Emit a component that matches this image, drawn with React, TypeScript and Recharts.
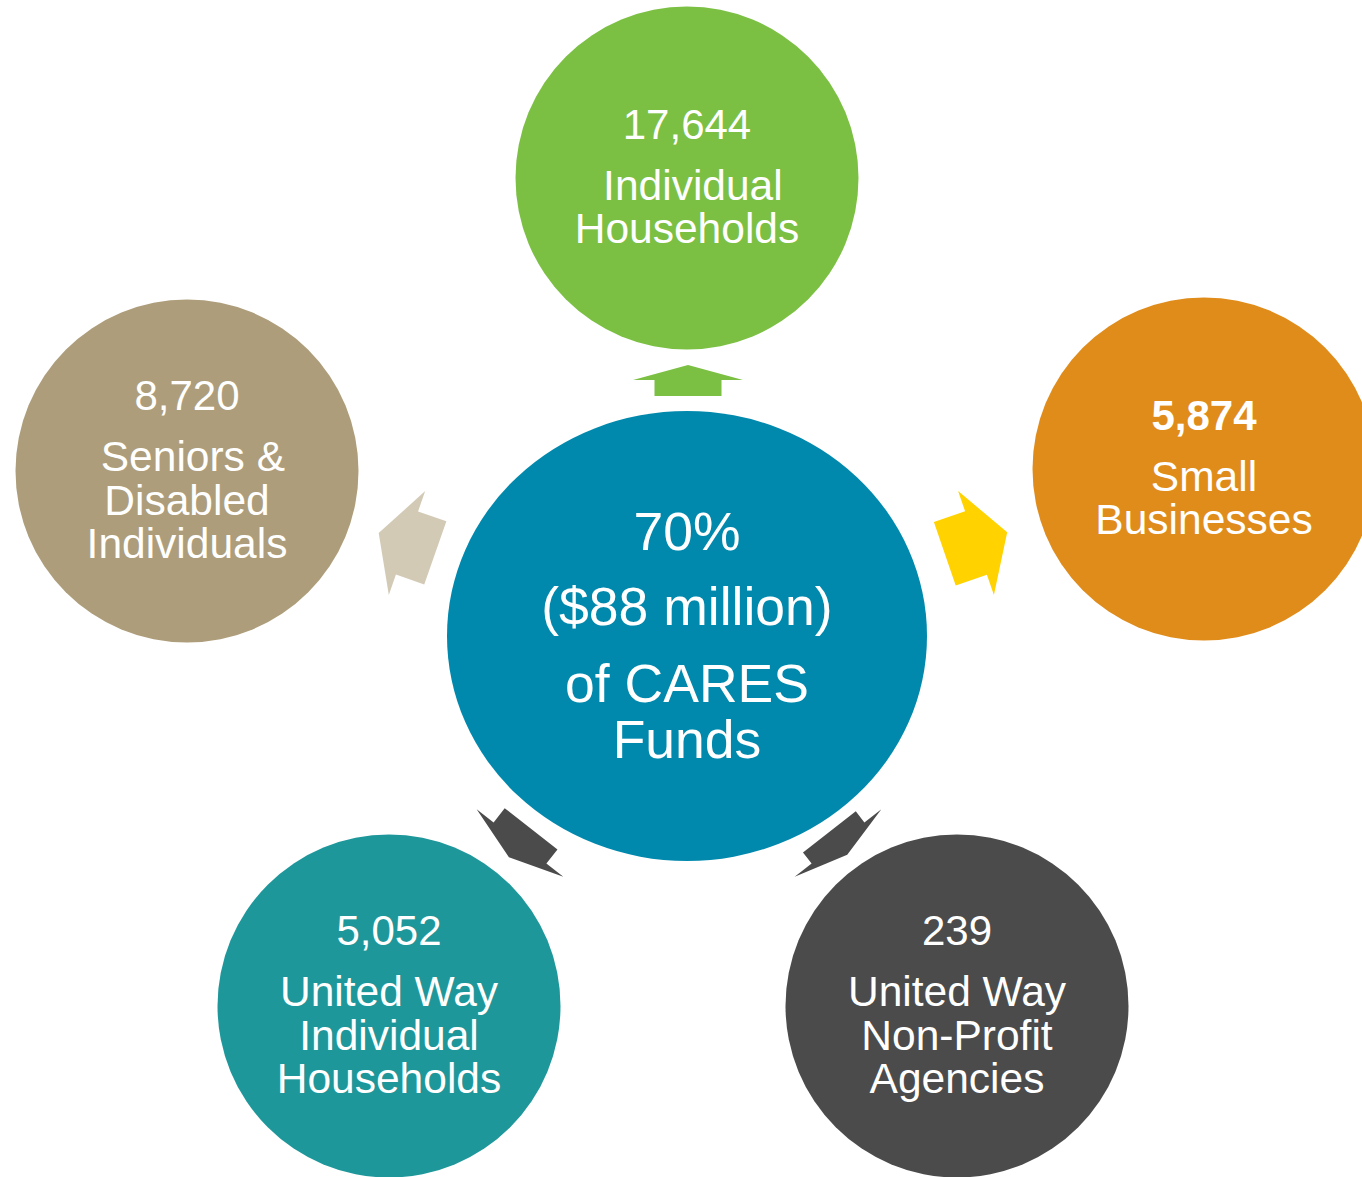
import React from 'react';
import { ScatterChart, Scatter, XAxis, YAxis } from 'recharts';

const WIDTH = 1362;
const HEIGHT = 1177;
const FONT = '"Liberation Sans", Arial, Helvetica, sans-serif';

// Hub (center) node
const hubX = [687];
const hubY = [636];
const hubLines = ['70%', '($88 million)', 'of CARES', 'Funds'];

// Outer nodes
const nodeX = [687, 1204, 957, 389, 187];
const nodeY = [178, 469, 1006, 1006, 471];
const nodeValues = ['17,644', '5,874', '239', '5,052', '8,720'];
const nodeLabels = [
  [' Individual', 'Households'],
  ['Small', 'Businesses'],
  ['United Way', 'Non-Profit', 'Agencies'],
  ['United Way', 'Individual', 'Households'],
  [' Seniors &', 'Disabled', 'Individuals'],
];
const nodeColors = ['#7BC043', '#E08C1B', '#4B4B4B', '#1E979B', '#AD9D7A'];
const nodeBold = [false, true, false, false, false];

// Arrows (head-base centre position and direction)
const arrowX = [688, 976, 838, 520, 407];
const arrowY = [380, 543, 843, 843, 543];
const arrowAngle = [-90, -19, 52, 128, -160.7];
const arrowHead = [15, 33, 15, 18, 30];
const arrowShaft = [16, 33, 14, 18, 30];
const arrowColors = ['#7BC043', '#FFD200', '#4B4B4B', '#4B4B4B', '#D3CAB6'];

const hubData = hubX.map((x, i) => ({ x, y: hubY[i], lines: hubLines }));
const nodeData = nodeX.map((x, i) => ({
  x,
  y: nodeY[i],
  value: nodeValues[i],
  labels: nodeLabels[i],
  color: nodeColors[i],
  bold: nodeBold[i],
}));
const arrowData = arrowX.map((x, i) => ({
  x,
  y: arrowY[i],
  angle: arrowAngle[i],
  head: arrowHead[i],
  shaft: arrowShaft[i],
  color: arrowColors[i],
}));

const ArrowShape = (props: any) => {
  const { cx, cy, payload } = props;
  if (cx == null || cy == null) return null;
  const headW = 110;
  const shaftW = 67;
  const a = (payload.angle * Math.PI) / 180;
  const c = Math.cos(a);
  const s = Math.sin(a);
  const local: [number, number][] = [
    [payload.head, 0],
    [0, headW / 2],
    [0, shaftW / 2],
    [-payload.shaft, shaftW / 2],
    [-payload.shaft, -shaftW / 2],
    [0, -shaftW / 2],
    [0, -headW / 2],
  ];
  const pts = local
    .map(([px, py]) => `${cx + px * c - py * s},${cy + px * s + py * c}`)
    .join(' ');
  return <polygon points={pts} fill={payload.color} />;
};

const NodeShape = (props: any) => {
  const { cx, cy, payload } = props;
  if (cx == null || cy == null) return null;
  const r = 171.5;
  const n = payload.labels.length;
  const gap = 61;
  const lh = 43.5;
  const block = gap + lh * (n - 1);
  const numY = cy + 13 - block / 2;
  return (
    <g>
      <circle cx={cx} cy={cy} r={r} fill={payload.color} />
      <text
        x={cx}
        y={numY}
        textAnchor="middle"
        fill="#FFFFFF"
        fontFamily={FONT}
        fontSize={42}
        fontWeight={payload.bold ? 700 : 400}
      >
        {payload.value}
      </text>
      {payload.labels.map((l: string, i: number) => (
        <text
          key={i}
          x={cx}
          y={numY + gap + lh * i}
          textAnchor="middle"
          fill="#FFFFFF"
          fontFamily={FONT}
          fontSize={42.5}
          style={{ whiteSpace: 'pre' }}
        >
          {l}
        </text>
      ))}
    </g>
  );
};

const HubShape = (props: any) => {
  const { cx, cy, payload } = props;
  if (cx == null || cy == null) return null;
  const offsets = [-86, -11, 66, 122];
  return (
    <g>
      <ellipse cx={cx} cy={cy} rx={240} ry={225} fill="#0089AD" />
      {payload.lines.map((l: string, i: number) => (
        <text
          key={i}
          x={cx}
          y={cy + offsets[i]}
          textAnchor="middle"
          fill="#FFFFFF"
          fontFamily={FONT}
          fontSize={53.5}
        >
          {l}
        </text>
      ))}
    </g>
  );
};

export default function App() {
  return (
    <div style={{ position: 'absolute', left: 0, top: 0, width: WIDTH, height: HEIGHT, background: '#FFFFFF' }}>
      <ScatterChart width={WIDTH} height={HEIGHT} margin={{ top: 0, right: 0, bottom: 0, left: 0 }}>
        <XAxis type="number" dataKey="x" domain={[0, WIDTH]} hide />
        <YAxis type="number" dataKey="y" domain={[0, HEIGHT]} reversed hide />
        <Scatter data={arrowData} shape={ArrowShape} isAnimationActive={false} />
        <Scatter data={hubData} shape={HubShape} isAnimationActive={false} />
        <Scatter data={nodeData} shape={NodeShape} isAnimationActive={false} />
      </ScatterChart>
    </div>
  );
}
